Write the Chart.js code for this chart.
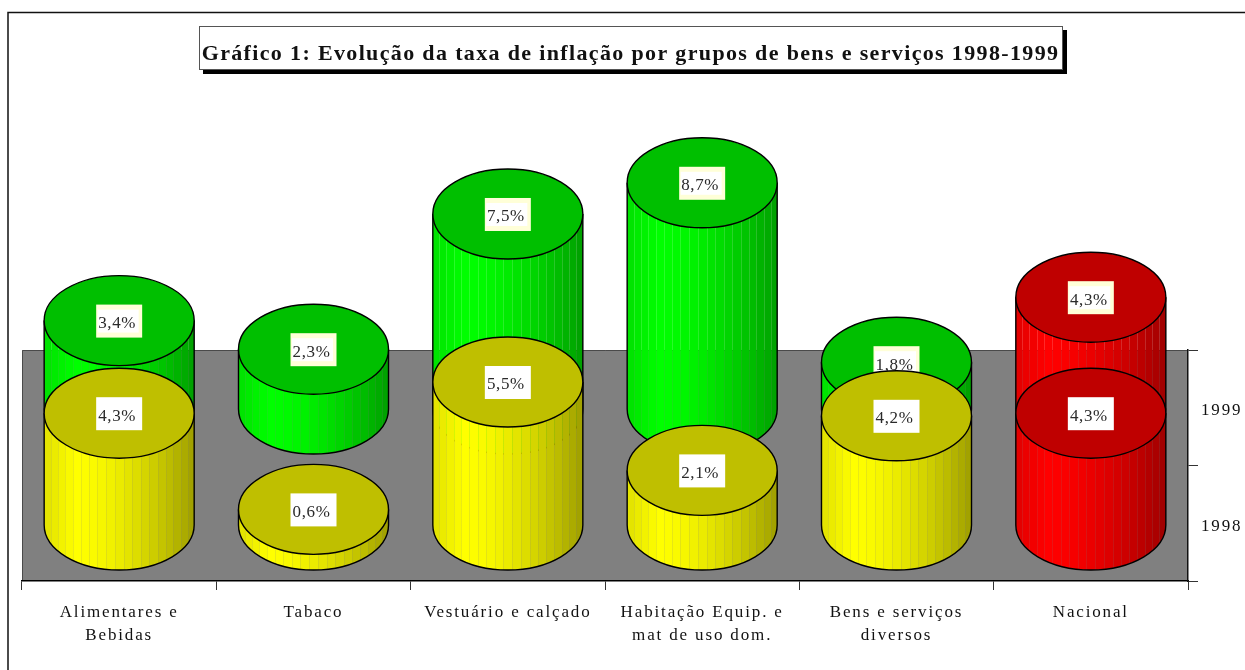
<!DOCTYPE html>
<html>
<head>
<meta charset="utf-8">
<title>Gráfico 1</title>
<script src="https://cdn.jsdelivr.net/npm/chart.js@4"></script>
<style>
  html, body { margin: 0; background: #fff; }
  canvas { display: block; }
</style>
</head>
<body>
<canvas id="chart" width="1245" height="670"></canvas>
<script>
const titleText = 'Gráfico 1: Evolução da taxa de inflação por grupos de bens e serviços 1998-1999';
const categories = [
  ['Alimentares e', 'Bebidas'],
  'Tabaco',
  'Vestuário e calçado',
  ['Habitação Equip. e', 'mat de uso dom.'],
  ['Bens e serviços', 'diversos'],
  'Nacional'
];
const depthLabels = ['1999', '1998'];
const values1998 = [4.3, 0.6, 5.5, 2.1, 4.2, 4.3];
const values1999 = [3.4, 2.3, 7.5, 8.7, 1.8, 4.3];

const SERIF = '"Liberation Serif", "Times New Roman", serif';
const GREEN = [0, 255, 0];
const YELLOW = [255, 255, 0];
const RED = [255, 0, 0];
const colors1998 = [YELLOW, YELLOW, YELLOW, YELLOW, YELLOW, RED];
const colors1999 = [GREEN, GREEN, GREEN, GREEN, GREEN, RED];

const RY = 45;      // half height of the cylinder caps
const FACETS = 19;

function shade(rgb, k, alpha) {
  const c = rgb.map(v => Math.round(v * k));
  return `rgba(${c[0]},${c[1]},${c[2]},${alpha === undefined ? 1 : alpha})`;
}

// brightness across the cylinder: peak about a fifth of the way in
function brightness(t) {
  if (t < 0.2) return 0.88 + 0.12 * (t / 0.2);
  return 1 - 0.38 * Math.pow((t - 0.2) / 0.8, 1.6);
}

function facetEdge(i) {
  const u = i / FACETS;
  return 0.8 * u + 0.2 * (1 - Math.cos(Math.PI * u)) / 2;
}

// hard colour steps; the thin seam between facets lets the background show through
function facetGradient(ctx, x, width, rgb) {
  const g = ctx.createLinearGradient(x - width / 2, 0, x + width / 2, 0);
  const seam = 1 / width;
  for (let i = 0; i < FACETS; i++) {
    const a = facetEdge(i);
    const b = facetEdge(i + 1);
    const k = brightness((a + b) / 2);
    g.addColorStop(a, shade(rgb, k, i ? 0.84 : 1));
    g.addColorStop(a + seam, shade(rgb, k, i ? 0.84 : 1));
    g.addColorStop(a + seam, shade(rgb, k));
    g.addColorStop(b, shade(rgb, k));
  }
  return g;
}

function bodyFill(c) {
  const rgb = c.dataset.faceColors[c.dataIndex];
  if (c.dataIndex === undefined || !rgb) return '#808080';
  const x = c.chart.scales.x.getPixelForValue(c.dataIndex);
  const width = c.chart.scales.x.width / categories.length * c.dataset.barPercentage;
  if (!Number.isFinite(x) || !width) return '#808080';  // asked before layout
  return facetGradient(c.chart.ctx, x, width, rgb);
}

const cylinders = {
  id: 'cylinders',
  afterLayout(chart) {
    // the title is spaced a little tighter than the axis text, and sits centred on its box
    const title = chart.titleBlock;
    if (title && !title.spaced) {
      const draw = title.draw;
      title.spaced = true;
      title.draw = function () {
        const ctx = chart.ctx;
        ctx.save();
        ctx.letterSpacing = '1.35px';
        ctx.translate(-2, 0);
        draw.call(title);
        ctx.restore();
      };
    }
  },
  beforeDraw(chart) {
    const { ctx, chartArea: a } = chart;
    ctx.letterSpacing = '1.85px';
    ctx.save();
    // outer frame, open on the right and at the bottom
    ctx.strokeStyle = '#111';
    ctx.lineWidth = 1.5;
    ctx.beginPath();
    ctx.moveTo(8, 670);
    ctx.lineTo(8, 12.5);
    ctx.lineTo(1245, 12.5);
    ctx.stroke();
    // title box with its hard shadow
    ctx.fillStyle = '#000';
    ctx.fillRect(203, 30, 864, 44);
    ctx.fillStyle = '#fff';
    ctx.fillRect(199, 26, 864, 44);
    ctx.strokeStyle = '#555';
    ctx.lineWidth = 1;
    ctx.strokeRect(199.5, 26.5, 863, 43);
    // back wall
    ctx.fillStyle = '#808080';
    ctx.fillRect(a.left, a.top, a.width, a.height);
    ctx.strokeStyle = '#4a4a4a';
    ctx.beginPath();
    ctx.moveTo(a.left + 0.5, a.bottom);
    ctx.lineTo(a.left + 0.5, a.top + 0.5);
    ctx.lineTo(a.right, a.top + 0.5);
    ctx.stroke();
    ctx.restore();
  },
  afterDatasetDraw(chart, args) {
    const { ctx } = chart;
    const meta = args.meta;
    const dataset = chart.data.datasets[args.index];
    ctx.save();
    meta.data.forEach((bar, i) => {
      const rgb = dataset.faceColors[i];
      const rx = bar.width / 2;
      const left = bar.x - rx;
      // rounded bottom of the body
      ctx.fillStyle = facetGradient(ctx, bar.x, bar.width, rgb);
      ctx.beginPath();
      ctx.ellipse(bar.x, bar.base, rx, RY, 0, 0, Math.PI);
      ctx.closePath();
      ctx.fill();
      ctx.strokeStyle = '#000';
      ctx.lineWidth = 1.4;
      ctx.beginPath();
      ctx.moveTo(left, bar.y);
      ctx.lineTo(left, bar.base);
      ctx.ellipse(bar.x, bar.base, rx, RY, 0, Math.PI, 0, true);
      ctx.lineTo(left + bar.width, bar.y);
      ctx.stroke();
      // top cap
      ctx.fillStyle = shade(rgb, 0.75);
      ctx.beginPath();
      ctx.ellipse(bar.x, bar.y, rx, RY, 0, 0, Math.PI * 2);
      ctx.fill();
      ctx.stroke();
      // value label; the back row has a cream fringe around the white
      const text = dataset.data[i].toFixed(1).replace('.', ',') + '%';
      ctx.fillStyle = dataset.labelFringe;
      ctx.fillRect(bar.x - 23, bar.y - 16, 46, 33);
      ctx.fillStyle = '#fff';
      ctx.fillRect(bar.x - 21.5, bar.y - 11, 41, 23);
      ctx.fillStyle = '#2a2a2a';
      ctx.font = '17px ' + SERIF;
      ctx.letterSpacing = '0.6px';
      ctx.textAlign = 'center';
      ctx.textBaseline = 'middle';
      ctx.fillText(text, bar.x - 2, bar.y + 3);
    });
    ctx.restore();
  }
};

new Chart(document.getElementById('chart'), {
  type: 'bar',
  data: {
    labels: categories,
    datasets: [
      { label: '1998', data: values1998, yAxisID: 'y98', order: 0, faceColors: colors1998,
        labelFringe: '#fff', backgroundColor: bodyFill, borderWidth: 0, grouped: false, clip: false,
        categoryPercentage: 1, barPercentage: 0.772 },
      { label: '1999', data: values1999, yAxisID: 'y99', order: 1, faceColors: colors1999,
        labelFringe: '#ffffd8', backgroundColor: bodyFill, borderWidth: 0, grouped: false, clip: false,
        categoryPercentage: 1, barPercentage: 0.772 }
    ]
  },
  options: {
    responsive: false,
    animation: false,
    layout: { padding: { left: 22, right: 2, top: 0, bottom: 0 } },
    plugins: {
      legend: { display: false },
      tooltip: { enabled: false },
      title: {
        display: true,
        text: titleText,
        color: '#111',
        font: { family: SERIF, size: 22, weight: 'bold', lineHeight: 1.2 },
        padding: { top: 41, bottom: 282.6 }
      }
    },
    scales: {
      x: {
        grid: { drawOnChartArea: false, tickLength: 9, color: '#333' },
        border: { color: '#000', width: 1.5 },
        ticks: {
          autoSkip: false, maxRotation: 0, padding: 11, color: '#111',
          font: { family: SERIF, size: 17, lineHeight: 1.353 }
        },
        afterFit(scale) { scale.height = 89; }
      },
      // both series share 26 px per percentage point, with the 1999 row standing further back
      y98: { axis: 'y', display: false, min: -2.154, max: 6.731 },
      y99: { axis: 'y', display: false, min: -6.615, max: 2.269 },
      depth: {
        axis: 'y',
        type: 'category',
        labels: depthLabels,
        position: 'right',
        offset: true,
        grid: { offset: true, drawOnChartArea: false, tickLength: 10, color: '#333' },
        border: { color: '#111', width: 1.5 },
        ticks: { padding: 3, labelOffset: 3, color: '#111', font: { family: SERIF, size: 17 } },
        afterFit(scale) { scale.width = 55; }
      }
    }
  },
  plugins: [cylinders]
});
</script>
</body>
</html>
